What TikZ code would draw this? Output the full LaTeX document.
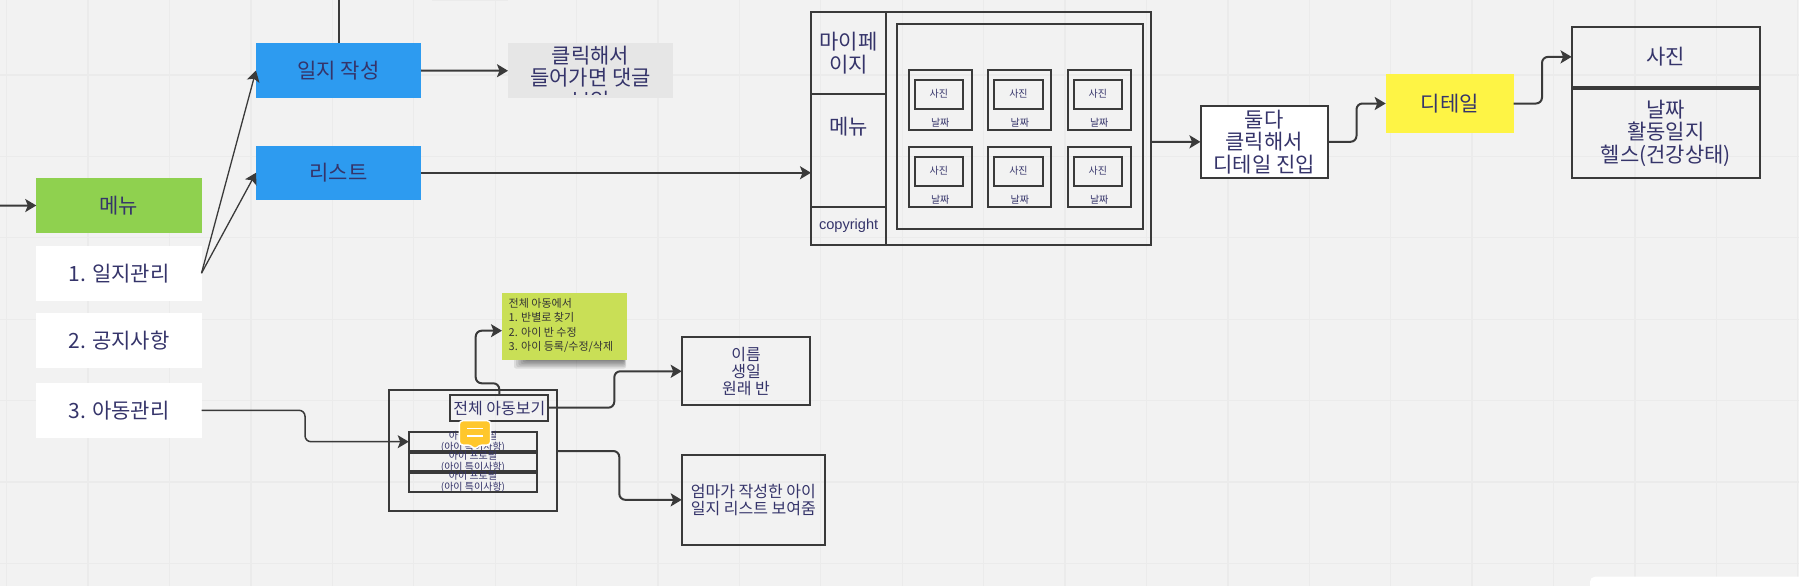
\documentclass[tikz,border=0pt]{standalone}
\usepackage{fontspec}
\setmainfont{Noto Sans CJK KR}
\newfontfamily\latinfont{Liberation Sans}
\usetikzlibrary{arrows.meta,calc}
\definecolor{bgc}{HTML}{F2F2F2}
\definecolor{gridc}{HTML}{EBEBEB}
\definecolor{inkc}{HTML}{35346A}
\definecolor{linec}{HTML}{3A3A3A}
\definecolor{bluec}{HTML}{2D9BF0}
\definecolor{greenc}{HTML}{8FD14F}
\definecolor{stickyc}{HTML}{C9DF56}
\definecolor{yellowc}{HTML}{FEF445}
\definecolor{chatc}{HTML}{FFC72C}
\definecolor{grayc}{HTML}{E6E6E6}
\tikzset{
 x=1pt,y=-1pt,
 base/.style={inner sep=0pt,outer sep=0pt,align=center,text=inkc,font=\fontsize{21}{22.5}\selectfont},
 frame/.style={base,draw=linec,line width=2pt},
 whitebox/.style={base,fill=white},
 framewhite/.style={frame,fill=white},
 blue/.style={base,fill=bluec},
 green/.style={base,fill=greenc},
 yel/.style={base,fill=yellowc},
 graybox/.style={base,fill=grayc},
 midtext/.style={font=\fontsize{16}{16.8}\selectfont},
 tiny/.style={font=\fontsize{10}{11}\selectfont},
 conn/.style={draw=linec,line width=2pt,rounded corners=6pt,-{Stealth[length=11pt,width=13pt,inset=2.5pt]}},
 thinconn/.style={conn,line width=1.3pt,rounded corners=0pt},
 plainconn/.style={draw=linec,line width=2pt},
}
% name, style, x1, y1, x2, y2, text
\newcommand\bx[7]{\node[#2,minimum width={(#5-#3)*1pt},minimum height={(#6-#4)*1pt}] (#1) at ({(#3+#5)/2},{(#4+#6)/2}) {#7};}
\begin{document}
\begin{tikzpicture}
\useasboundingbox (0,0) rectangle (1799,586);
\fill[bgc] (0,0) rectangle (1799,586);
\foreach \k in {0,...,22} \draw[gridc,line width=1.3pt] ({6.7+81.41*\k},0) -- ({6.7+81.41*\k},586);
\foreach \k in {0,...,6} \draw[gridc,line width=1.3pt] (0,{75+81.41*\k}) -- (1799,{75+81.41*\k});
\fill[white,rounded corners=5pt] (1590,576.7) rectangle (1810,600);
\fill[gridc] (431.7,0) rectangle (508,1);

% left column
\bx{menu}{green}{36.3}{178}{201.5}{233}{메뉴}
\bx{diary}{whitebox}{36.3}{245.7}{201.5}{300.7}{1. 일지관리}
\bx{notice}{whitebox}{36.3}{313.3}{201.5}{367.7}{2. 공지사항}
\bx{kids}{whitebox}{36.3}{383.3}{201.5}{437.7}{3. 아동관리}
\coordinate (offleft) at (0,205.6);
\draw[conn,rounded corners=0pt] (offleft) -- (menu.west);

% write / list
\bx{write}{blue}{256}{43.5}{421}{97.5}{일지 작성}
\bx{list}{blue}{256}{145.5}{421}{200}{리스트}
\coordinate (offtop) at (338.5,0);
\draw[plainconn] (offtop) -- (write.north);
\begin{scope}
\clip (508,43.5) rectangle (673,95);
\bx{click}{graybox}{508}{43.5}{673}{98}{}
\node[base,anchor=north] (clicktext) at (590.5,46) {클릭해서\\들어가면 댓글\\보임};
\end{scope}
\fill[grayc] (508,95) rectangle (673,98);
\draw[conn,rounded corners=0pt] (write.east) -- (click.west);
\draw[thinconn] (diary.east) -- (write.west);
\draw[thinconn] (diary.east) -- (list.west);

% my page
\bx{page}{frame}{811}{12.3}{1150.7}{245.3}{}
\bx{inner}{frame}{896.7}{24}{1142.7}{229.3}{}
\bx{mypage}{frame}{811}{12.3}{886.3}{94}{마이페\\이지}
\bx{sidemenu}{frame}{811}{94}{886.3}{206.7}{}
\node[base] (sidemenutext) at (848.6,127) {메뉴};
\bx{copy}{frame}{811}{206.7}{886.3}{245.3}{\latinfont\fontsize{14.6}{16}\selectfont copyright}
\draw[conn,rounded corners=0pt] (list.east) -- (list.east -| sidemenu.west);

\foreach \cx/\n in {908.7/a,988.3/b,1067.7/c}{
 \foreach \cy/\m in {70/t,147/u}{
  \pgfmathsetmacro\xb{\cx+63}
  \pgfmathsetmacro\yb{\cy+60.3}
  \pgfmathsetmacro\xc{\cx+6}
  \pgfmathsetmacro\xd{\cx+54.3}
  \pgfmathsetmacro\yc{\cy+9.7}
  \pgfmathsetmacro\yd{\cy+38.7}
  \bx{card\n\m}{frame}{\cx}{\cy}{\xb}{\yb}{}
  \bx{pic\n\m}{frame,tiny}{\xc}{\yc}{\xd}{\yd}{사진}
  \node[base,tiny] (date\n\m) at ($(card\n\m.south)+(0,-7.5)$) {날짜};
 }
}

% detail path
\bx{into}{framewhite}{1200.5}{106}{1327.6}{177.7}{둘다\\클릭해서\\디테일 진입}
\draw[conn,rounded corners=0pt] (1152,141.8) coordinate (pageout) -- (into.west);
\bx{detail}{yel}{1385.7}{73.7}{1513.7}{133.3}{디테일}
\draw[conn] (into.east) -- (1356.5,141.8) -- (1356.5,103.5) -- (detail.west);
\bx{photo}{frame}{1571.6}{27}{1760}{86.7}{사진}
\bx{info}{frame}{1571.6}{88.7}{1760}{177.7}{날짜\\활동일지\\헬스(건강상태)}
\draw[conn] (detail.east) -- (1542,103.5) -- (1542,56.9) -- (photo.west);

% children
\bx{outer}{frame}{389}{390}{557}{511}{}
\bx{all}{frame,midtext}{450.3}{395.3}{548.3}{421.3}{전체 아동보기}
\bx{kid1}{frame,tiny}{408.7}{433}{537.3}{451.3}{아이 프로필\\(아이 특이사항)}
\bx{kid2}{frame,tiny}{408.7}{452.5}{537.3}{471.3}{아이 프로필\\(아이 특이사항)}
\bx{kid3}{frame,tiny}{408.7}{472}{537.3}{490.7}{아이 프로필\\(아이 특이사항)}
\draw[conn,line width=1.5pt] (kids.east |- 0,410.3) -- (305,410.3) -- (305,441.7) -- (kid1.west |- 0,441.7);

% sticky
\foreach \i in {0,...,5}
 \fill[black,opacity=.09,rounded corners=2pt] ({514+2.2*\i},358) rectangle ({626-0.4*\i},{368.5-1.5*\i});
\bx{sticky}{base,fill=stickyc}{502}{292.7}{626.7}{360}{}
\node[base,anchor=west,align=left,text=black!80,font=\fontsize{11}{14.5}\selectfont] (stickytext) at (508.7,325.2) {전체 아동에서\\1. 반별로 찾기\\2. 아이 반 수정\\3. 아이 등록/수정/삭제};
\draw[conn] (all.north -| 499.3,0) -- (499.3,383.3) -- (475.7,383.3) -- (475.7,330.7) -- (sticky.west |- 0,330.7);

% result boxes
\bx{name}{frame,midtext}{681.7}{337.3}{810.3}{405.3}{이름\\생일\\원래 반}
\bx{mom}{frame,midtext}{681.7}{455}{825}{544.7}{엄마가 작성한 아이\\일지 리스트 보여줌}
\draw[conn] (all.east |- 0,407.7) -- (614.3,407.7) -- (614.3,371.3) -- (name.west);
\draw[conn] (outer.east |- 0,451) -- (619.3,451) -- (619.3,499.8) -- (mom.west);

% comment icon
\filldraw[fill=chatc,draw=white,line width=1.5pt,rounded corners=3.5pt,line join=round]
 (459.3,420.7) -- (490.7,420.7) -- (490.7,445) -- (479,445) -- (475,450) -- (471,445) -- (459.3,445) -- cycle;
\draw[white,line width=1.8pt] (467.3,428.5) -- (482.7,428.5) (467.3,436) -- (482.7,436);
\end{tikzpicture}
\end{document}
